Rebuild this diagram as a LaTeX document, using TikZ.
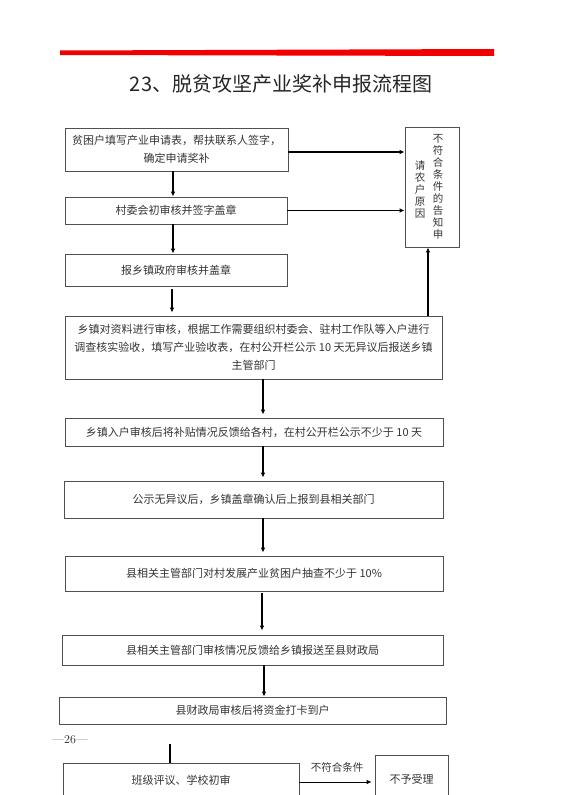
\documentclass[tikz,border=0pt]{standalone}
\usepackage{fontspec}
\newfontfamily\cjk{Noto Sans CJK SC}
\usetikzlibrary{arrows.meta}
\definecolor{cred}{HTML}{F00000}
\definecolor{cdark}{HTML}{333333}
\definecolor{cline}{HTML}{505050}

\begin{document}
\begin{tikzpicture}[x=1pt,y=-1pt,
  box/.style={draw=cline, line width=0.8pt, align=center, inner sep=1pt, text=cdark, font=\cjk\fontsize{11}{18}\selectfont},
  lbl/.style={text=cdark, font=\cjk\fontsize{10.5}{12}\selectfont},
  arr/.style={-{Latex[length=5pt,width=4.5pt]}, line width=1.2pt, draw=black}]

\useasboundingbox (0,0) rectangle (562,795);
\clip (0,0) rectangle (562,795);

% header
\fill[cred] (60,50.5) -- (494,49) -- (494,56) -- (60,55) -- cycle;
\node[font=\cjk\fontsize{20}{22}\selectfont, text=black!85] (title) at (281,84) {23、脱贫攻坚产业奖补申报流程图};

% main flow
\node[box, minimum width=223, minimum height=43] (apply) at (176.5,149.5) {贫困户填写产业申请表，帮扶联系人签字，\\确定申请奖补};
\node[box, minimum width=222, minimum height=27] (village) at (176,210.5) {村委会初审核并签字盖章};
\node[box, minimum width=222, minimum height=32] (town) at (176,270) {报乡镇政府审核并盖章};
\node[box, minimum width=377, minimum height=63] (check) at (253.5,347.5) {乡镇对资料进行审核，根据工作需要组织村委会、驻村工作队等入户进行\\调查核实验收，填写产业验收表，在村公开栏公示 10 天无异议后报送乡镇\\主管部门};
\node[box, minimum width=378, minimum height=28] (feedback) at (254,432) {乡镇入户审核后将补贴情况反馈给各村，在村公开栏公示不少于 10 天};
\node[box, minimum width=379, minimum height=37] (report) at (253.5,499.5) {公示无异议后，乡镇盖章确认后上报到县相关部门};
\node[box, minimum width=378, minimum height=35] (sample) at (254,573.5) {县相关主管部门对村发展产业贫困户抽查不少于 10\%};
\node[box, minimum width=381, minimum height=30] (county) at (252.5,650) {县相关主管部门审核情况反馈给乡镇报送至县财政局};
\node[box, minimum width=387, minimum height=27] (pay) at (252.5,710.5) {县财政局审核后将资金打卡到户};

% notice box, vertical text
\node[box, minimum width=54, minimum height=120] (notice) at (432,187) {};
\node[lbl, align=center] (noticeR) at (438,186.5) {不\\符\\合\\条\\件\\的\\告\\知\\申};
\node[lbl, align=center] (noticeL) at (420,189.5) {请\\农\\户\\原\\因};

% next page
\node[font=\fontsize{12}{14}\selectfont, text=black!85] (page) at (70,740) {—26—};
\node[box, minimum width=236, minimum height=34] (class) at (181,780) {班级评议、学校初审};
\node[box, minimum width=73, minimum height=48] (reject) at (411.5,779) {不予受理};
\coordinate (stub) at (170,744);
\coordinate (spine) at (263,0);

\draw[arr] (apply.east |- 0,152) -- (notice.west |- 0,152);
\draw[arr] (village.east) -- (notice.west |- village.east);
\draw[arr] (apply.south -| 173,0) -- (village.north -| 173,0);
\draw[arr] (village.south -| 173,0) -- (town.north -| 173,0);
\draw[arr, shorten <=3pt, shorten >=3pt] (town.south -| 172,0) -- (check.north -| 172,0);
\draw[arr] (check.north -| 428,0) -- (notice.south -| 428,0);
\draw[arr, shorten >=3pt] (check.south -| spine) -- (feedback.north -| spine);
\draw[arr, shorten >=3pt] (feedback.south -| spine) -- (report.north -| spine);
\draw[arr, shorten >=3pt] (report.south -| spine) -- (sample.north -| spine);
\draw[arr, shorten <=2pt, shorten >=4pt] (sample.south -| 262,0) -- (county.north -| 262,0);
\draw[arr] (county.south -| 264,0) -- (pay.north -| 264,0);
\draw[line width=1.2pt] (stub) -- (class.north -| stub);
\draw[arr, line width=0.8pt, shorten >=3pt] (class.east |- 0,782) -- node[lbl, above=6pt] {不符合条件} (reject.west |- 0,782);
\end{tikzpicture}
\end{document}
